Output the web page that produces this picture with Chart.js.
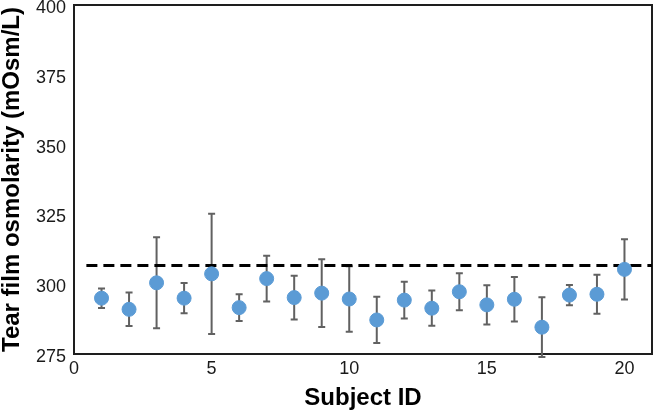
<!DOCTYPE html>
<html>
<head>
<meta charset="utf-8">
<script src="https://cdn.jsdelivr.net/npm/chart.js@4.4.1/dist/chart.umd.min.js"></script>
<style>
  body { margin: 0; background: #fff; }
  #chart { display: block; }
</style>
</head>
<body>
<canvas id="chart" width="654" height="414"></canvas>
<script>
// Данные
const subjects = [1, 2, 3, 4, 5, 6, 7, 8, 9, 10, 11, 12, 13, 14, 15, 16, 17, 18, 19, 20];
const meanOsm = [295, 291, 300.5, 295, 303.7, 291.6, 302, 295.2, 296.8, 294.7, 287.2, 294.3, 291.4, 297.3, 292.6, 294.6, 284.6, 296.1, 296.4, 305.3];
const errOsm = [3.5, 6, 16.3, 5.4, 21.5, 4.8, 8.2, 7.8, 12.1, 11.7, 8.3, 6.6, 6.3, 6.6, 7, 8, 10.7, 3.6, 7, 10.8];
const refLineX = [0.45, 21];
const refValue = 306.7;
const yTicks = [275, 300, 325, 350, 375, 400];
const xTicks = [0, 5, 10, 15, 20];

const tickFont = { family: 'Liberation Sans, Arial, sans-serif', size: 18 };
const titleFont = { family: 'Liberation Sans, Arial, sans-serif', size: 24, weight: 'bold', lineHeight: 1 };

// убираем лишние отступы под подписи делений
function noPadding(s) {
    s.paddingTop = 0;
    s.paddingBottom = 0;
    s.paddingLeft = 0;
    s.paddingRight = 0;
}

// Рамка вокруг области графика и планки погрешностей
const errorBarsPlugin = {
    id: 'errorBars',
    beforeDatasetsDraw(chart) {
        const ctx = chart.ctx;
        const area = chart.chartArea;
        ctx.save();
        ctx.strokeStyle = '#1e1e1e';
        ctx.lineWidth = 2;
        ctx.strokeRect(area.left, area.top, area.right - area.left, area.bottom - area.top);

        const yScale = chart.scales.y;
        const meta = chart.getDatasetMeta(0);
        ctx.strokeStyle = '#616161';
        ctx.lineWidth = 2;
        meta.data.forEach((pt, i) => {
            const yTop = yScale.getPixelForValue(meanOsm[i] + errOsm[i]);
            const yBot = yScale.getPixelForValue(meanOsm[i] - errOsm[i]);
            ctx.beginPath();
            ctx.moveTo(pt.x, yTop);
            ctx.lineTo(pt.x, yBot);
            ctx.moveTo(pt.x - 3.5, yTop);
            ctx.lineTo(pt.x + 3.5, yTop);
            ctx.moveTo(pt.x - 3.5, yBot);
            ctx.lineTo(pt.x + 3.5, yBot);
            ctx.stroke();
        });
        ctx.restore();
    }
};

const ctx = document.getElementById('chart').getContext('2d');
const chart = new Chart(ctx, {
    type: 'scatter',
    data: {
        datasets: [
            {
                label: 'Tear film osmolarity',
                data: subjects.map((s, i) => ({ x: s, y: meanOsm[i] })),
                backgroundColor: '#5B9BD5',
                borderColor: '#5B9BD5',
                pointRadius: 7,
                pointHoverRadius: 7,
                order: 1
            },
            {
                type: 'line',
                label: 'Reference',
                data: refLineX.map(x => ({ x: x, y: refValue })),
                borderColor: '#000',
                borderWidth: 3,
                borderDash: [11, 6],
                pointRadius: 0,
                fill: false,
                order: 2
            }
        ]
    },
    options: {
        responsive: false,
        animation: false,
        layout: { autoPadding: false, padding: { top: 5, right: 2, left: 0, bottom: 0 } },
        plugins: {
            legend: { display: false },
            tooltip: { enabled: false }
        },
        scales: {
            x: {
                type: 'linear',
                min: 0,
                max: 21,
                afterBuildTicks: (s) => { s.ticks = xTicks.map(v => ({ value: v })); },
                afterFit: (s) => { s.height = 60; noPadding(s); },
                grid: { display: false, drawTicks: false },
                border: { display: false },
                ticks: { font: tickFont, color: '#1a1a1a', padding: 4, maxRotation: 0 },
                title: {
                    display: true,
                    text: 'Subject ID',
                    font: titleFont,
                    color: '#000',
                    padding: { top: 0, bottom: 4 }
                }
            },
            y: {
                min: 275,
                max: 400,
                afterBuildTicks: (s) => { s.ticks = yTicks.map(v => ({ value: v })); },
                afterFit: (s) => { s.width = 74; noPadding(s); },
                grid: { display: false, drawTicks: false },
                border: { display: false },
                ticks: { font: tickFont, color: '#1a1a1a', padding: 8, labelOffset: 3 },
                title: {
                    display: true,
                    text: 'Tear film osmolarity (mOsm/L)',
                    font: titleFont,
                    color: '#000',
                    padding: { top: 0, bottom: 0 }
                }
            }
        }
    },
    plugins: [errorBarsPlugin]
});
</script>
</body>
</html>
